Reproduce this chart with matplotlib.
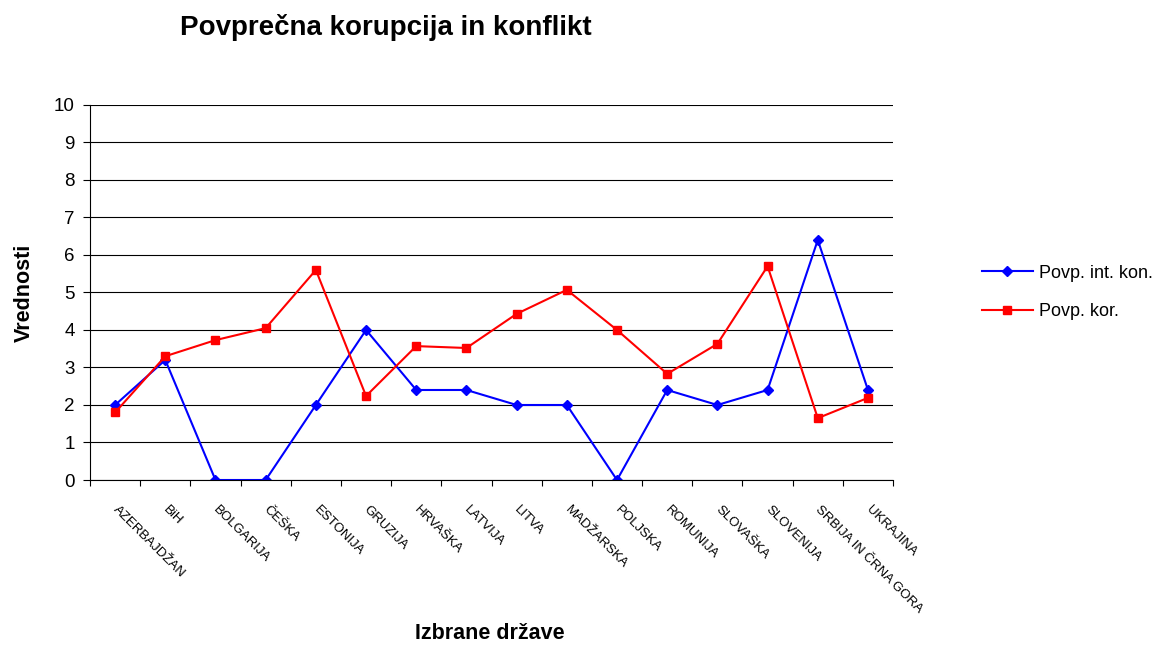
import matplotlib
matplotlib.use("Agg")
import matplotlib.pyplot as plt
import matplotlib.transforms as mtransforms
import numpy as np

plt.rcParams['font.family'] = ['Liberation Sans', 'DejaVu Sans']

countries = ["AZERBAJDŽAN", "BiH", "BOLGARIJA", "ČEŠKA", "ESTONIJA", "GRUZIJA",
             "HRVAŠKA", "LATVIJA", "LITVA", "MADŽARSKA", "POLJSKA", "ROMUNIJA",
             "SLOVAŠKA", "SLOVENIJA", "SRBIJA IN ČRNA GORA", "UKRAJINA"]
int_kon = [2.0, 3.2, 0.0, 0.0, 2.0, 4.0, 2.4, 2.4, 2.0, 2.0, 0.0, 2.4, 2.0, 2.4, 6.4, 2.4]
kor = [1.8, 3.3, 3.73, 4.05, 5.6, 2.24, 3.57, 3.52, 4.43, 5.07, 4.0, 2.83, 3.63, 5.7, 1.65, 2.19]

fig = plt.figure(figsize=(11.72, 6.52), dpi=100)
ax = fig.add_axes([0.0768, 0.2638, 0.6852, 0.5752])

x = np.arange(len(countries))
ax.plot(x, int_kon, color='#0000FF', marker='D', markersize=5, linewidth=1.5, label='Povp. int. kon.')
ax.plot(x, kor, color='#FF0000', marker='s', markersize=6, linewidth=1.5, label='Povp. kor.')

ax.set_xlim(-0.5, len(countries) - 0.5)
ax.set_ylim(0, 10)
ax.set_yticks(range(0, 11))
ax.tick_params(axis='y', labelsize=13.5, length=5, direction='out', pad=6)
ax.yaxis.grid(True, color='black', linewidth=0.8)
ax.set_axisbelow(True)

ax.set_xticks(np.arange(-0.5, len(countries), 1))
ax.set_xticklabels([])
ax.tick_params(axis='x', length=4, direction='out')
ax.set_xticks(x, minor=True)
ax.set_xticklabels(countries, minor=True, rotation=-45, ha='left', va='top',
                   rotation_mode='anchor', fontsize=9.5)
ax.tick_params(axis='x', which='minor', length=0, pad=17)
offset = mtransforms.ScaledTranslation(4 / 100, 0, fig.dpi_scale_trans)
for lab in ax.get_xticklabels(minor=True):
    lab.set_transform(lab.get_transform() + offset)

for s in ['top', 'right']:
    ax.spines[s].set_visible(False)
for s in ['left', 'bottom']:
    ax.spines[s].set_color('black')

ax.set_ylabel('Vrednosti', fontsize=15.5, fontweight='bold', labelpad=14)
fig.text(0.418, 0.012, 'Izbrane države', fontsize=15.5, fontweight='bold', ha='center', va='bottom')
fig.text(0.329, 0.958, 'Povprečna korupcija in konflikt', fontsize=20, fontweight='bold',
         ha='center', va='center')

ax.legend(loc='center left', bbox_to_anchor=(1.111, 0.5), frameon=False, fontsize=13,
          handlelength=2.8, handletextpad=0.35, labelspacing=1.2,
          borderaxespad=0, borderpad=0)

fig.savefig('out.png', dpi=100)
